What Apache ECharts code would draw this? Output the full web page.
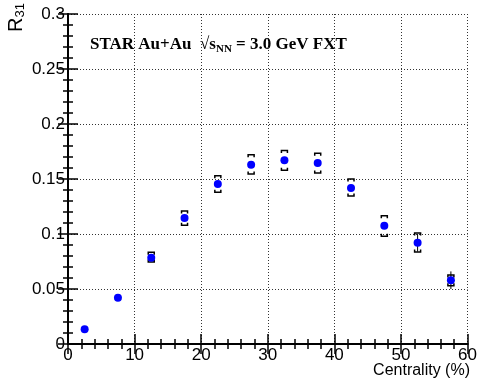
<!DOCTYPE html>
<html>
<head>
<meta charset="utf-8">
<script src="https://cdn.jsdelivr.net/npm/echarts@6/dist/echarts.min.js"></script>
<style>
  html, body { margin: 0; padding: 0; background: #fff; }
  #chart { width: 480px; height: 383px; }
</style>
</head>
<body>
<div id="chart"></div>
<script>
// centrality bin centres (%)
const centrality = [2.5, 7.5, 12.5, 17.5, 22.5, 27.5, 32.5, 37.5, 42.5, 47.5, 52.5, 57.5];
// R31 values
const r31 = [0.0134, 0.042, 0.0785, 0.1145, 0.1455, 0.163, 0.167, 0.1645, 0.1418, 0.1076, 0.092, 0.058];
// statistical errors
const statErr = [0.0015, 0.0015, 0.002, 0.002, 0.002, 0.002, 0.002, 0.002, 0.002, 0.003, 0.008, 0.008];
// systematic band (low / high edges); null = no bracket
const sysLow = [null, null, 0.0745, 0.108, 0.138, 0.1545, 0.158, 0.1555, 0.1345, 0.098, 0.0836, 0.053];
const sysHigh = [null, null, 0.0835, 0.121, 0.153, 0.172, 0.176, 0.1733, 0.150, 0.1167, 0.101, 0.0627];

const chart = echarts.init(document.getElementById('chart'), null, { renderer: 'canvas' });

const FONT = '"Liberation Sans", Arial, sans-serif';
const SERIF = '"Liberation Serif", "Times New Roman", serif';

const pointData = centrality.map((c, i) => [c, r31[i]]);
const statData = centrality.map((c, i) => [c, r31[i] - statErr[i], r31[i] + statErr[i]]);
const sysData = centrality
  .map((c, i) => [c, sysLow[i], sysHigh[i]])
  .filter(d => d[1] !== null);

const frameAxis = {
  axisLine: { show: true, lineStyle: { color: '#000', width: 2 } },
  axisTick: { show: true, inside: true, length: 10, lineStyle: { color: '#000', width: 1.5 } },
  minorTick: { show: true, splitNumber: 5, length: 5, lineStyle: { color: '#000', width: 1.5 } }
};

const option = {
  animation: false,
  grid: { left: 68, right: 10, top: 14, bottom: 39 },
  xAxis: [
    Object.assign({
      type: 'value', min: 0, max: 60, interval: 10, position: 'bottom',
      axisLabel: { fontFamily: FONT, fontSize: 17, color: '#000', margin: 3 },
      splitLine: { show: true, lineStyle: { color: '#333', type: [1, 2], width: 1 } }
    }, frameAxis),
    Object.assign({
      type: 'value', min: 0, max: 60, interval: 10, position: 'top',
      axisLabel: { show: false }, splitLine: { show: false }
    }, frameAxis)
  ],
  yAxis: [
    Object.assign({
      type: 'value', min: 0, max: 0.3, interval: 0.05, position: 'left',
      axisLabel: { fontFamily: FONT, fontSize: 17, color: '#000', margin: 3 },
      splitLine: { show: true, lineStyle: { color: '#333', type: [1, 2], width: 1 } }
    }, frameAxis),
    Object.assign({
      type: 'value', min: 0, max: 0.3, interval: 0.05, position: 'right',
      axisLabel: { show: false }, splitLine: { show: false }
    }, frameAxis)
  ],
  graphic: [
    {
      type: 'group', x: 5, y: 32, rotation: Math.PI / 2,
      children: [{
        type: 'text', x: 0, y: 0,
        style: {
          text: '{r|R}{s|31}',
          align: 'left', verticalAlign: 'top',
          rich: {
            r: { fontFamily: FONT, fontSize: 20, fill: '#000' },
            s: { fontFamily: FONT, fontSize: 13, fill: '#000', padding: [9, 0, 0, 0] }
          }
        }
      }]
    },
    {
      type: 'text', right: 10, top: 363,
      style: { text: 'Centrality (%)', fontFamily: FONT, fontSize: 16, fill: '#000' }
    },
    {
      type: 'text', left: 90, top: 36,
      style: {
        text: '{a|STAR Au+Au  }{q|√}{s|s}{n|NN}{a| = 3.0 GeV FXT}',
        rich: {
          a: { fontFamily: SERIF, fontWeight: 'bold', fontSize: 17, fill: '#000' },
          q: { fontFamily: SERIF, fontSize: 17, fill: '#000' },
          s: { fontFamily: SERIF, fontWeight: 'bold', fontSize: 17, fill: '#000' },
          n: { fontFamily: SERIF, fontWeight: 'bold', fontSize: 11, fill: '#000', padding: [9, 0, 0, 0] }
        }
      }
    }
  ],
  series: [
    {
      name: 'stat', type: 'custom', data: statData, z: 2,
      renderItem: function (params, api) {
        const lo = api.coord([api.value(0), api.value(1)]);
        const hi = api.coord([api.value(0), api.value(2)]);
        return {
          type: 'line',
          shape: { x1: lo[0], y1: lo[1], x2: hi[0], y2: hi[1] },
          style: { stroke: '#000', lineWidth: 1 }
        };
      }
    },
    {
      name: 'sys', type: 'custom', data: sysData, z: 3,
      renderItem: function (params, api) {
        const lo = api.coord([api.value(0), api.value(1)]);
        const hi = api.coord([api.value(0), api.value(2)]);
        const hw = 3, cap = 2.5;
        const x = lo[0];
        return {
          type: 'group',
          children: [
            { type: 'polyline', shape: { points: [[x - hw, hi[1] + cap], [x - hw, hi[1]], [x + hw, hi[1]], [x + hw, hi[1] + cap]] },
              style: { stroke: '#000', lineWidth: 1.5, fill: null } },
            { type: 'polyline', shape: { points: [[x - hw, lo[1] - cap], [x - hw, lo[1]], [x + hw, lo[1]], [x + hw, lo[1] - cap]] },
              style: { stroke: '#000', lineWidth: 1.5, fill: null } }
          ]
        };
      }
    },
    {
      name: 'R31', type: 'scatter', data: pointData, z: 4,
      symbol: 'circle', symbolSize: 8,
      itemStyle: { color: '#0000ff', opacity: 1 }
    }
  ]
};

chart.setOption(option);
</script>
</body>
</html>
